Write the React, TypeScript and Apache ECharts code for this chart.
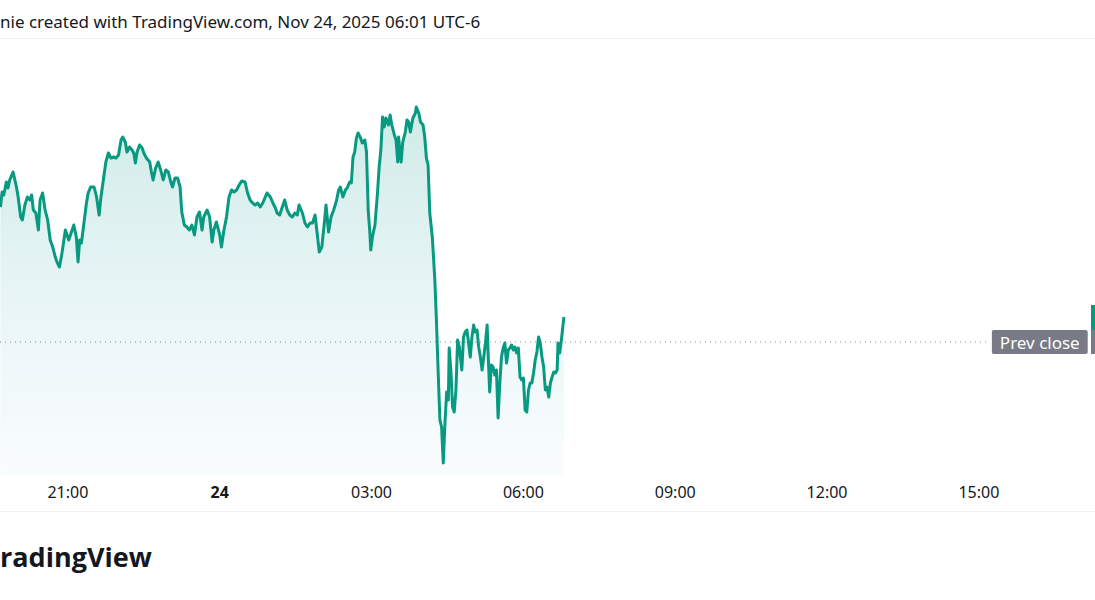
import React, { useEffect, useRef } from "react";
import * as echarts from "echarts";

// ---- texts ----
const titleText = "nie created with TradingView.com, Nov 24, 2025 06:01 UTC-6";
const brandText = "radingView";
const prevCloseLabel = "Prev close";

// ---- axes ----
// time axis in minutes from 00:00 on Nov 24 (negative = Nov 23)
const tickMinutes = [-180, 0, 180, 360, 540, 720, 900];
const tickLabels = ["21:00", "24", "03:00", "06:00", "09:00", "12:00", "15:00"];
const viewStartMinute = -260.5;
const viewEndMinute = 1031.7;
const priceMin = 98.66;
const priceMax = 103.02;

// ---- values ----
const prevClose = 100.0;
const prevCloseEndMinute = 913;

// [minute, price] before the 04:15 drop
const overnight: [number, number][] = [
  [-260, 101.35], [-258, 101.5], [-256, 101.47], [-253, 101.6], [-251, 101.54], [-249, 101.62],
  [-245, 101.7], [-241, 101.55], [-239, 101.45], [-236, 101.25], [-234, 101.22], [-231, 101.37],
  [-228, 101.45], [-225, 101.42], [-223, 101.47], [-221, 101.32], [-218, 101.29], [-215, 101.12],
  [-213, 101.42], [-210, 101.49], [-207, 101.32], [-204, 101.22], [-201, 101.02], [-198, 100.95],
  [-195, 100.85], [-193, 100.8], [-190, 100.75], [-187, 100.89], [-183, 101.12], [-179, 101.02],
  [-177, 101.07], [-173, 101.17], [-170, 101.05], [-168, 100.8], [-166, 101.02], [-164, 100.99],
  [-161, 101.19], [-158, 101.39], [-156, 101.49], [-153, 101.55], [-149, 101.55], [-146, 101.45],
  [-143, 101.27], [-141, 101.44], [-138, 101.62], [-135, 101.8], [-132, 101.89], [-129, 101.84],
  [-126, 101.85], [-123, 101.84], [-120, 101.87], [-117, 102.02], [-115, 102.05], [-112, 102.0],
  [-110, 101.9], [-107, 101.95], [-104, 101.92], [-102, 101.89], [-100, 101.79], [-98, 101.9],
  [-95, 101.97], [-92, 101.94], [-90, 101.89], [-87, 101.84], [-83, 101.8], [-81, 101.7],
  [-79, 101.62], [-76, 101.74], [-73, 101.8], [-70, 101.72], [-67, 101.62], [-64, 101.72],
  [-61, 101.7], [-58, 101.6], [-56, 101.55], [-53, 101.64], [-50, 101.64], [-47, 101.55],
  [-45, 101.3], [-42, 101.17], [-39, 101.15], [-36, 101.12], [-33, 101.17], [-30, 101.07],
  [-27, 101.25], [-24, 101.3], [-21, 101.12], [-19, 101.25], [-15, 101.32], [-12, 101.25],
  [-9, 101.0], [-7, 101.12], [-4, 101.2], [0, 101.07], [2, 100.95], [5, 101.12],
  [8, 101.25], [11, 101.45], [14, 101.52], [17, 101.5], [20, 101.52], [23, 101.57],
  [26, 101.61], [30, 101.6], [33, 101.49], [36, 101.42], [39, 101.39], [42, 101.37],
  [45, 101.39], [48, 101.35], [51, 101.39], [54, 101.45], [56, 101.49], [60, 101.45],
  [63, 101.39], [66, 101.34], [68, 101.29], [71, 101.27], [75, 101.37], [77, 101.42],
  [80, 101.32], [83, 101.27], [86, 101.25], [89, 101.29], [92, 101.27], [94, 101.37],
  [98, 101.29], [101, 101.19], [104, 101.15], [107, 101.19], [110, 101.19], [113, 101.27],
  [116, 101.05], [118, 100.9], [121, 100.95], [124, 101.19], [126, 101.37], [129, 101.1],
  [132, 101.25], [135, 101.32], [138, 101.4], [141, 101.52], [143, 101.55], [146, 101.45],
  [149, 101.52], [151, 101.54], [154, 101.6], [156, 101.59], [158, 101.85], [160, 101.9],
  [162, 102.04], [164, 102.09], [167, 102.04], [169, 101.99], [172, 102.02], [174, 101.9],
  [176, 101.32], [178, 101.09], [179, 100.92], [181, 101.05], [184, 101.17], [187, 101.49],
  [189, 101.75], [191, 101.92], [193, 102.25], [195, 102.15], [197, 102.24], [200, 102.17],
  [202, 102.27], [204, 102.17], [207, 102.07], [209, 102.02], [211, 101.8], [212, 102.05],
  [215, 101.8], [217, 102.0], [220, 102.1], [222, 102.22], [224, 102.2], [226, 102.1],
  [229, 102.24], [232, 102.29], [233, 102.35], [236, 102.29], [238, 102.2], [241, 102.17],
  [243, 102.05], [245, 101.84], [247, 101.77],
];

// [minute, price] from the drop to the latest print
const morning: [number, number][] = [
  [249, 101.29], [252, 101.05], [255, 100.62], [257, 100.19], [259, 99.69], [261, 99.22],
  [263, 99.15], [265, 98.79], [267, 99.19], [269, 99.5], [271, 99.42], [272, 99.94],
  [274, 99.72], [276, 99.35], [278, 99.3], [280, 99.52], [282, 100.02], [284, 99.95],
  [287, 99.72], [289, 100.05], [291, 100.1], [293, 100.12], [295, 99.99], [297, 99.85],
  [299, 100.05], [301, 100.17], [303, 100.1], [305, 100.12], [307, 99.95], [309, 99.85],
  [311, 99.72], [313, 99.85], [315, 99.99], [317, 100.17], [318, 99.92], [320, 99.5],
  [322, 99.77], [324, 99.75], [326, 99.67], [328, 99.72], [330, 99.24], [332, 99.59],
  [334, 99.85], [336, 99.94], [338, 99.99], [340, 99.79], [342, 99.92], [344, 99.94],
  [346, 99.97], [348, 99.92], [350, 99.95], [352, 99.89], [354, 99.94], [356, 99.65],
  [358, 99.62], [360, 99.64], [362, 99.32], [364, 99.3], [366, 99.52], [368, 99.59],
  [370, 99.59], [372, 99.69], [374, 99.82], [376, 99.9], [378, 100.05], [380, 99.99],
  [382, 99.85], [384, 99.75], [386, 99.52], [388, 99.55], [390, 99.45], [392, 99.59],
  [394, 99.65], [396, 99.7], [398, 99.69], [400, 99.72], [401, 99.99], [403, 99.89],
  [405, 100.02], [408, 100.25],
];

const FONT = "'Noto Sans', Roboto, sans-serif";
const TEXT = "#131722";
const GREEN = "#089981";
const GRAY_LABEL = "#787b86";

export default function App() {
  const ref = useRef<HTMLDivElement | null>(null);

  useEffect(() => {
    if (!ref.current) return;
    const chart = echarts.init(ref.current, undefined, { renderer: "svg" });
    const series = [...overnight, ...morning];
    const lastPrice = series[series.length - 1][1];

    const staticGraphics: any[] = [
      {
        type: "text",
        id: "title",
        left: 0,
        top: 13,
        style: { text: titleText, font: `17px ${FONT}`, fill: TEXT },
      },
      {
        type: "line",
        id: "sepTop",
        shape: { x1: 0, y1: 38.5, x2: 1095, y2: 38.5 },
        style: { stroke: "#eff1f5", lineWidth: 1 },
      },
      {
        type: "line",
        id: "sepBottom",
        shape: { x1: 0, y1: 511.5, x2: 1095, y2: 511.5 },
        style: { stroke: "#eff1f5", lineWidth: 1 },
      },
      {
        type: "text",
        id: "brand",
        x: 0,
        y: 556,
        style: {
          text: brandText,
          font: `bold 27px 'Open Sans', ${FONT}`,
          fill: TEXT,
          verticalAlign: "middle",
        },
      },
    ];

    chart.setOption({
      animation: false,
      backgroundColor: "#ffffff",
      grid: { left: 0, right: 5, top: 40, bottom: 124, containLabel: false },
      xAxis: {
        type: "value",
        min: viewStartMinute,
        max: viewEndMinute,
        axisLine: { show: false },
        axisTick: { show: false },
        splitLine: { show: false },
        axisLabel: {
          customValues: tickMinutes,
          margin: 8,
          color: TEXT,
          fontSize: 16,
          fontFamily: FONT,
          formatter: (v: number) => {
            const i = tickMinutes.indexOf(Math.round(v));
            const label = i >= 0 ? tickLabels[i] : "";
            return Math.round(v) % 1440 === 0 ? `{b|${label}}` : label;
          },
          rich: {
            b: { fontWeight: "bold", fontSize: 16, color: TEXT, fontFamily: FONT },
          },
        },
      },
      yAxis: {
        type: "value",
        position: "right",
        min: priceMin,
        max: priceMax,
        show: false,
        splitLine: { show: false },
      },
      series: [
        {
          type: "line",
          name: "prev",
          data: [
            [viewStartMinute, prevClose],
            [prevCloseEndMinute, prevClose],
          ],
          showSymbol: false,
          silent: true,
          lineStyle: { color: "#868993", width: 1, type: [1, 4] },
          endLabel: {
            show: true,
            formatter: prevCloseLabel,
            distance: 2,
            color: "#ffffff",
            fontSize: 17,
            fontFamily: FONT,
            backgroundColor: GRAY_LABEL,
            padding: [3, 8, 3, 8],
            lineHeight: 18,
            borderRadius: 2,
          },
          z: 1,
        },
        {
          type: "line",
          name: "price",
          data: series,
          showSymbol: false,
          lineStyle: { color: GREEN, width: 3, join: "round" },
          areaStyle: {
            origin: "start",
            color: new echarts.graphic.LinearGradient(0, 0, 0, 1, [
              { offset: 0, color: "rgba(8,153,129,0.28)" },
              { offset: 1, color: "rgba(90,180,220,0.05)" },
            ]),
          },
          z: 3,
        },
      ],
      graphic: staticGraphics,
    });

    const yLast = chart.convertToPixel({ gridIndex: 0 }, [0, lastPrice])[1];
    const yPrev = chart.convertToPixel({ gridIndex: 0 }, [0, prevClose])[1];
    chart.setOption({
      graphic: [
        ...staticGraphics,
        {
          type: "rect",
          id: "prevPriceTag",
          shape: { x: 1091, y: yPrev - 12, width: 10, height: 24 },
          style: { fill: GRAY_LABEL },
        },
        {
          type: "rect",
          id: "lastPriceTag",
          shape: { x: 1091, y: yLast - 12, width: 10, height: yPrev - yLast },
          style: { fill: GREEN },
        },
      ],
    });

    return () => chart.dispose();
  }, []);

  return (
    <div
      ref={ref}
      style={{ position: "fixed", left: 0, top: 0, width: 1095, height: 600 }}
    />
  );
}
